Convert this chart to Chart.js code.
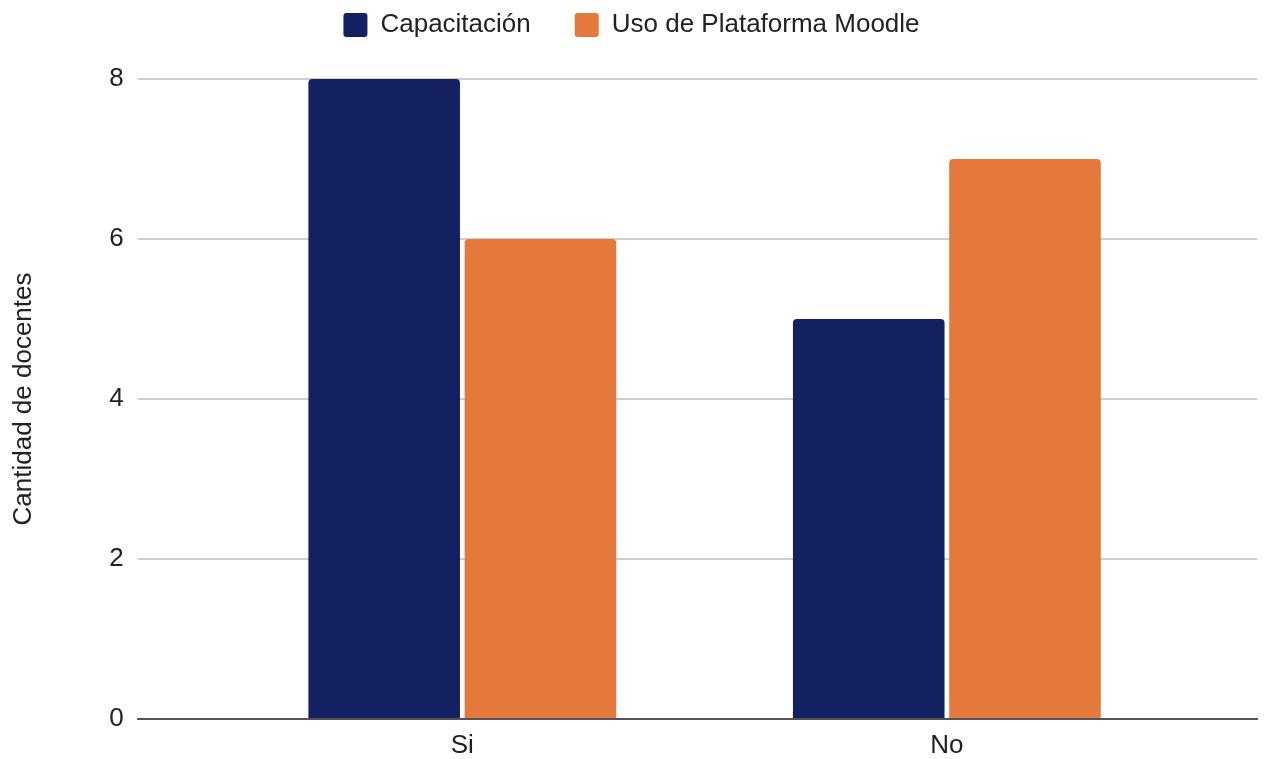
<!DOCTYPE html>
<html>
<head>
<meta charset="utf-8">
<script src="https://cdn.jsdelivr.net/npm/chart.js@4"></script>
<style>
  html, body { margin: 0; padding: 0; background: #fff; }
  #wrap { width: 1271px; height: 759px; }
</style>
</head>
<body>
<div id="wrap"><canvas id="chart"></canvas></div>
<script>
// data
const categories = ["Si", "No"];
const capacitacion = [8, 5];
const usoMoodle = [6, 7];
const yTicks = [0, 2, 4, 6, 8];

const toPoints = (vals) => vals.map((v, i) => ({ x: i + 1, y: v }));
const FONT = "Liberation Sans, Arial, sans-serif";

// extra room under the legend
const legendGap = {
  id: "legendGap",
  beforeInit(chart) {
    const fit = chart.legend.fit;
    chart.legend.fit = function () {
      fit.call(this);
      this.height += 31;
    };
  },
};

const ctx = document.getElementById("chart");

new Chart(ctx, {
  type: "bar",
  data: {
    datasets: [
      {
        label: "Capacitación",
        data: toPoints(capacitacion),
        backgroundColor: "#132163",
        borderRadius: 4,
        borderSkipped: "start",
        categoryPercentage: 0.645,
        barPercentage: 0.97,
      },
      {
        label: "Uso de Plataforma Moodle",
        data: toPoints(usoMoodle),
        backgroundColor: "#e4793b",
        borderRadius: 4,
        borderSkipped: "start",
        categoryPercentage: 0.645,
        barPercentage: 0.97,
      },
    ],
  },
  options: {
    responsive: true,
    maintainAspectRatio: false,
    animation: false,
    layout: { padding: { left: 6, right: 14, top: -32, bottom: -14 } },
    plugins: {
      tooltip: { enabled: false },
      legend: {
        position: "top",
        labels: {
          font: { family: FONT, size: 26 },
          color: "#222",
          boxWidth: 24,
          boxHeight: 24,
          useBorderRadius: true,
          borderRadius: 3,
          padding: 44,
        },
      },
    },
    scales: {
      x: {
        type: "linear",
        offset: false,
        min: 0.33,
        max: 2.64,
        grid: { display: false, drawTicks: false },
        border: { color: "#555", width: 2 },
        afterBuildTicks: (axis) => {
          axis.ticks = categories.map((c, i) => ({ value: i + 1 }));
        },
        ticks: {
          padding: 14,
          color: "#222",
          font: { family: FONT, size: 26, lineHeight: 1 },
          callback: (v) => categories[v - 1] || "",
        },
      },
      y: {
        min: 0,
        max: 8,
        afterBuildTicks: (axis) => {
          axis.ticks = yTicks.map((v) => ({ value: v }));
        },
        grid: { color: "#cfcfcf", lineWidth: 2, drawTicks: false },
        border: { display: false },
        ticks: {
          padding: 14,
          color: "#222",
          font: { family: FONT, size: 26 },
        },
        title: {
          display: true,
          text: "Cantidad de docentes",
          color: "#222",
          font: { family: FONT, size: 26 },
          padding: { top: 2, bottom: 56 },
        },
      },
    },
  },
  plugins: [legendGap],
});
</script>
</body>
</html>
